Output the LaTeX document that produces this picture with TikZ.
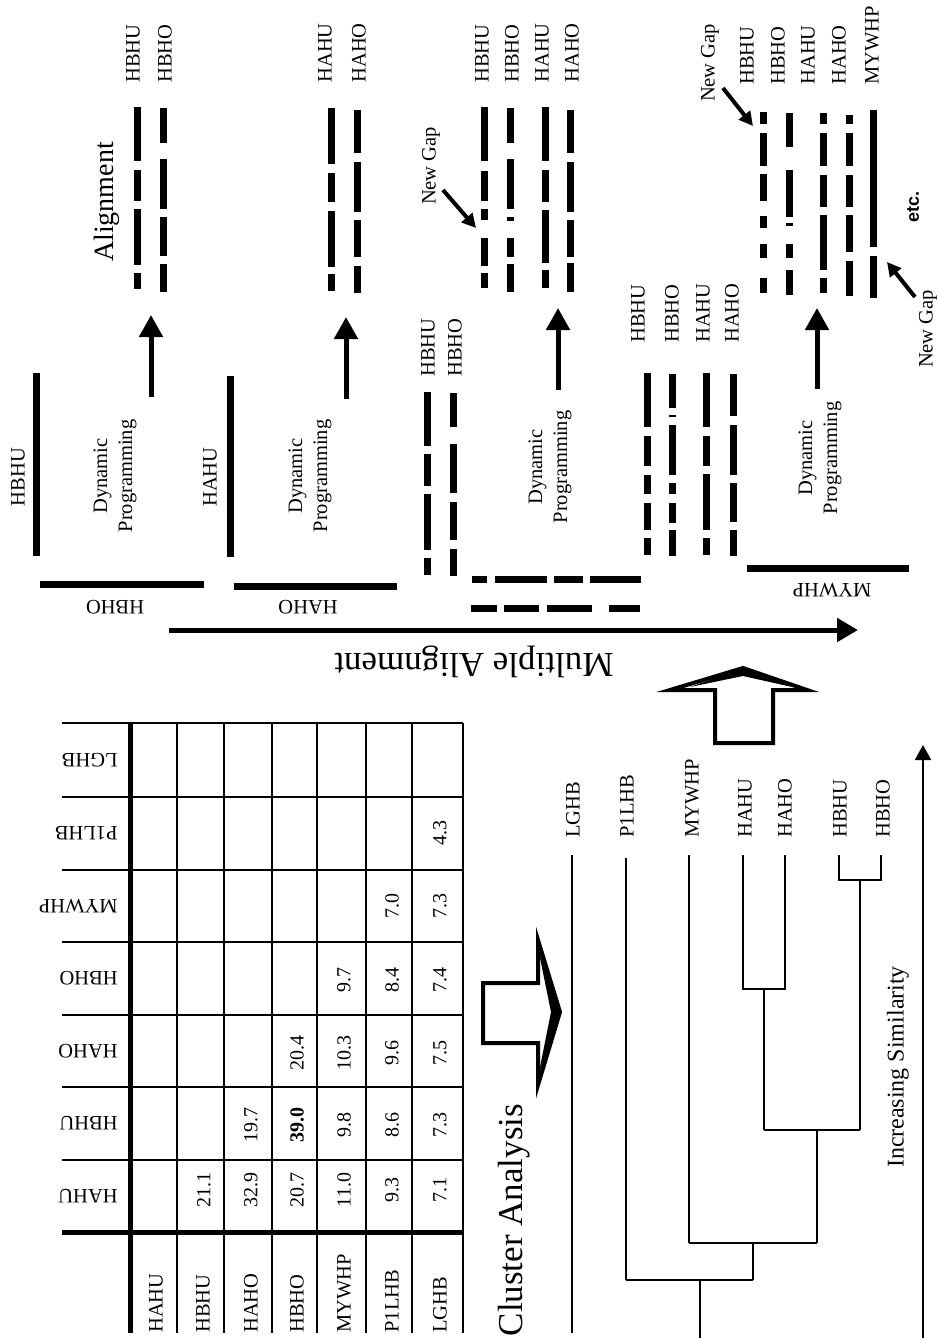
\documentclass[tikz,border=0pt]{standalone}
\usepackage{fontspec}
\setmainfont{Liberation Serif}
\newfontfamily\etcfont{Liberation Sans}
\usetikzlibrary{arrows.meta}
\newcommand\mybar[2]{\foreach \a/\b in {#2} {\draw[bar] (#1,\a) -- (#1,\b);}}
\newcommand\myhbar[2]{\foreach \a/\b in {#2} {\draw[bar] (\a,#1) -- (\b,#1);}}
\begin{document}
\begin{tikzpicture}[x=0.5pt,y=-0.5pt,
  lbl/.style={font=\fontsize{10.25}{12.5}\selectfont, inner sep=0pt},
  num/.style={font=\fontsize{10}{12}\selectfont, inner sep=0pt, rotate=90},
  vt/.style={rotate=90},
  ud/.style={rotate=180},
  title/.style={font=\fontsize{17.5}{20}\selectfont, inner sep=0pt},
  bar/.style={line width=3.5pt},
  hair/.style={line width=0.65pt},
  tabthick/.style={line width=2.5pt},
  bigarr/.style={line width=2.5pt, -{Triangle[width=11.5pt,length=11pt]}},
  gaparr/.style={line width=2pt, -{Triangle[width=7pt,length=7pt]}},
  blockarr/.style={line width=2pt, miter limit=20},
]
\fill[white] (0,0) rectangle (938,1338);
\useasboundingbox (0,0) rectangle (938,1338);

% ================= Stage 1 =================
\node[lbl,vt] (s1inU) at (18,477) {HBHU};
\draw[bar] (36,373) -- (36,556);
\draw[bar] (40,584) -- (204,584);
\node[lbl,ud] (s1inO) at (115,607) {HBHO};
\node[lbl,vt,align=center] (dp1) at (115,476) {Dynamic\\Programming};
\coordinate (a1s) at (151,397); \coordinate (a1e) at (151,315);
\draw[bigarr] (a1s) -- (a1e);
\mybar{137}{107/161,170/201,209/265,273/289}
\mybar{163}{108/143,159/209,217/256,264/292}
\node[lbl,vt,anchor=west] (r1U) at (133,83) {HBHU};
\node[lbl,vt,anchor=west] (r1O) at (165,83) {HBHO};
\node[font=\fontsize{14}{16}\selectfont,inner sep=0pt,vt] (alg) at (107,202) {Alignment};

% ================= Stage 2 =================
\node[lbl,vt] (s2inU) at (210,477) {HAHU};
\draw[bar] (230,376) -- (230,557);
\draw[bar] (234,586) -- (397,586);
\node[lbl,ud] (s2inO) at (308,607) {HAHO};
\node[lbl,vt,align=center] (dp2) at (310,476) {Dynamic\\Programming};
\coordinate (a2s) at (346,399); \coordinate (a2e) at (346,317);
\draw[bigarr] (a2s) -- (a2e);
\mybar{331}{108/164,173/202,211/267,274/291}
\mybar{357}{110/153,162/212,220/257,266/293}
\node[lbl,vt,anchor=west] (r2U) at (325,83) {HAHU};
\node[lbl,vt,anchor=west] (r2O) at (359,83) {HAHO};

% ================= Stage 3 =================
\mybar{427}{392/446,454/486,494/550,558/575}
\mybar{453}{393/427,444/493,502/540,549/576}
\node[lbl,vt,anchor=west] (s3inU) at (428,377) {HBHU};
\node[lbl,vt,anchor=west] (s3inO) at (455,377) {HBHO};
\myhbar{579}{472/487,495/547,554/583,590/641}
\myhbar{608}{471/497,504/539,547/592,609/640}
\node[lbl,vt,align=center] (dp3) at (550,467) {Dynamic\\Programming};
\coordinate (a3s) at (558,390); \coordinate (a3e) at (558,308);
\draw[bigarr] (a3s) -- (a3e);
\mybar{484}{107/161,171/201,209/220,238/266,273/288}
\mybar{510}{108/143,159/209,217/221,238/257,264/292}
\mybar{545}{107/161,170/202,210/263,270/288}
\mybar{570}{110/153,162/212,220/257,263/292}
\node[lbl,vt,anchor=west] (r3a) at (482,83) {HBHU};
\node[lbl,vt,anchor=west] (r3b) at (512,83) {HBHO};
\node[lbl,vt,anchor=west] (r3c) at (542,83) {HAHU};
\node[lbl,vt,anchor=west] (r3d) at (572,83) {HAHO};
\node[lbl,vt] (ng3) at (431,166) {New Gap};
\coordinate (g3s) at (443,190); \coordinate (g3e) at (476,228);
\draw[gaparr] (g3s) -- (g3e);

% ================= Stage 4 =================
\mybar{647}{373/427,436/466,475/494,503/530,538/555}
\mybar{672}{374/408,415/417,425/475,483/494,503/523,530/556}
\mybar{706}{373/427,436/466,474/530,538/555}
\mybar{733}{374/416,425/475,483/522,530/556}
\node[lbl,vt,anchor=west] (s4a) at (638,343) {HBHU};
\node[lbl,vt,anchor=west] (s4b) at (672,343) {HBHO};
\node[lbl,vt,anchor=west] (s4c) at (703,343) {HAHU};
\node[lbl,vt,anchor=west] (s4d) at (732,343) {HAHO};
\draw[bar] (747,568) -- (909,568);
\node[lbl,ud] (s4m) at (832,590) {MYWHP};
\node[lbl,vt,align=center] (dp4) at (820,458) {Dynamic\\Programming};
\coordinate (a4s) at (817,389); \coordinate (a4e) at (817,308);
\draw[bigarr] (a4s) -- (a4e);
\mybar{763}{112/124,133/166,174/201,216/228,244/258,278/293}
\mybar{789}{113/147,170/217,223/226,244/258,270/295}
\mybar{823}{113/124,133/166,175/207,215/270,278/293}
\mybar{849}{115/124,133/166,175/207,215/252,261/296}
\mybar{873}{110/247,256/298}
\node[lbl,vt,anchor=west] (r4a) at (747,85) {HBHU};
\node[lbl,vt,anchor=west] (r4b) at (778,85) {HBHO};
\node[lbl,vt,anchor=west] (r4c) at (808,85) {HAHU};
\node[lbl,vt,anchor=west] (r4d) at (839,85) {HAHO};
\node[lbl,vt,anchor=west] (r4e) at (872,85) {MYWHP};
\node[lbl,vt] (ng4a) at (710,63) {New Gap};
\coordinate (g4as) at (723,88); \coordinate (g4ae) at (753,126);
\draw[gaparr] (g4as) -- (g4ae);
\node[lbl,vt] (ng4b) at (928,329) {New Gap};
\coordinate (g4bs) at (915,297); \coordinate (g4be) at (887,262);
\draw[gaparr] (g4bs) -- (g4be);
\node[font=\etcfont\bfseries\fontsize{9}{11}\selectfont,inner sep=0pt,vt] (etc) at (913,207) {etc.};

% ================= Multiple alignment arrow =================
\coordinate (mas) at (169,630); \coordinate (mae) at (858,630);
\draw[line width=2.5pt, -{Triangle[width=11.5pt,length=10.5pt]}] (mas) -- (mae);
\node[title,ud] (mult) at (474,662) {Multiple Alignment};

% ================= Upward block arrow =================
\draw[blockarr] (715,743) -- (715,690) -- (670,690) -- (743,668) -- (807,690) -- (773,690) -- (773,743) -- cycle;
\fill (690,687) -- (743,668) -- (792,687) -- (743,676) -- cycle;

% ================= Table =================
\foreach \yy in {723,797,870,942,1015,1087,1160} {\draw[hair] (62,\yy) -- (463,\yy);}
\draw[tabthick] (62,1232) -- (463,1232);
\foreach \xx in {177,224,272,317,366,412,463} {\draw[hair] (\xx,723) -- (\xx,1333);}
\draw[tabthick] (130,723) -- (130,1333);
% row labels (upside down)
\node[lbl,ud,anchor=west] (rl1) at (118,760) {LGHB};
\node[lbl,ud,anchor=west] (rl2) at (118,833) {P1LHB};
\node[lbl,ud,anchor=west] (rl3) at (118,906) {MYWHP};
\node[lbl,ud,anchor=west] (rl4) at (118,978) {HBHO};
\node[lbl,ud,anchor=west] (rl5) at (118,1051) {HAHO};
\node[lbl,ud,anchor=west] (rl6) at (118,1123) {HBHU};
\node[lbl,ud,anchor=west] (rl7) at (118,1196) {HAHU};
% column labels
\node[lbl,vt,anchor=west] (cl1) at (156,1333) {HAHU};
\node[lbl,vt,anchor=west] (cl2) at (203,1333) {HBHU};
\node[lbl,vt,anchor=west] (cl3) at (251,1333) {HAHO};
\node[lbl,vt,anchor=west] (cl4) at (297,1333) {HBHO};
\node[lbl,vt,anchor=west] (cl5) at (344,1333) {MYWHP};
\node[lbl,vt,anchor=west] (cl6) at (392,1333) {P1LHB};
\node[lbl,vt,anchor=west] (cl7) at (440,1333) {LGHB};
% values
\node[num] (v12) at (204,1190) {21.1};
\node[num] (v13) at (251,1190) {32.9};
\node[num] (v14) at (297,1190) {20.7};
\node[num] (v15) at (344,1190) {11.0};
\node[num] (v16) at (392,1190) {9.3};
\node[num] (v17) at (440,1190) {7.1};
\node[num] (v23) at (251,1125) {19.7};
\node[num,font=\bfseries\fontsize{10}{12}\selectfont] (v24) at (297,1125) {39.0};
\node[num] (v25) at (344,1125) {9.8};
\node[num] (v26) at (392,1125) {8.6};
\node[num] (v27) at (440,1125) {7.3};
\node[num] (v34) at (297,1053) {20.4};
\node[num] (v35) at (344,1053) {10.3};
\node[num] (v36) at (392,1053) {9.6};
\node[num] (v37) at (440,1053) {7.5};
\node[num] (v45) at (344,980) {9.7};
\node[num] (v46) at (392,980) {8.4};
\node[num] (v47) at (440,980) {7.4};
\node[num] (v56) at (392,906) {7.0};
\node[num] (v57) at (440,906) {7.3};
\node[num] (v67) at (440,833) {4.3};

% ================= Right block arrow =================
\draw[blockarr] (483,983) -- (538,983) -- (538,940) -- (560,1012) -- (538,1085) -- (538,1043) -- (483,1043) -- cycle;
\fill (538,948) -- (560,1012) -- (538,1077) -- (551,1012) -- cycle;
\node[title,vt] (clus) at (514,1220) {Cluster Analysis};

% ================= Dendrogram =================
\node[lbl,vt,anchor=west] (dl1) at (573,838) {LGHB};
\node[lbl,vt,anchor=west] (dl2) at (627,838) {P1LHB};
\node[lbl,vt,anchor=west] (dl3) at (692,838) {MYWHP};
\node[lbl,vt,anchor=west] (dl4) at (745,838) {HAHU};
\node[lbl,vt,anchor=west] (dl5) at (785,838) {HAHO};
\node[lbl,vt,anchor=west] (dl6) at (840,838) {HBHU};
\node[lbl,vt,anchor=west] (dl7) at (883,838) {HBHO};
\draw[hair] (572,855) -- (572,1333);
\draw[hair] (626,858) -- (626,1280);
\draw[hair] (689,855) -- (689,1243);
\draw[hair] (743,855) -- (743,989) -- (785,989) -- (785,855);
\draw[hair] (764,989) -- (764,1130);
\draw[hair] (839,855) -- (839,880) -- (881,880) -- (881,855);
\draw[hair] (860,880) -- (860,1130);
\draw[hair] (764,1130) -- (860,1130);
\draw[hair] (817,1130) -- (817,1243);
\draw[hair] (689,1243) -- (817,1243);
\draw[hair] (753,1243) -- (753,1280);
\draw[hair] (626,1280) -- (753,1280);
\draw[hair] (700,1280) -- (700,1338);
\coordinate (iss) at (923,1338); \coordinate (ise) at (923,745);
\draw[line width=1pt, -{Triangle[width=8pt,length=7.5pt]}] (iss) -- (ise);
\node[font=\fontsize{12}{14}\selectfont,inner sep=0pt,vt] (incs) at (898,1067) {Increasing Similarity};
\end{tikzpicture}
\end{document}
